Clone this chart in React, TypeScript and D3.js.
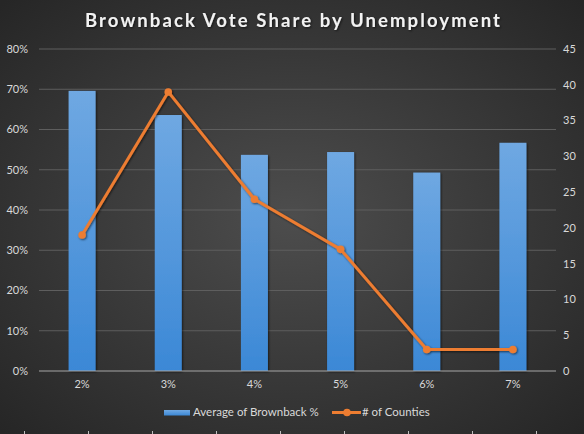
import * as d3 from "d3";
import { useEffect, useRef } from "react";

const categories = ["2%", "3%", "4%", "5%", "6%", "7%"];
const brownbackShare = [0.696, 0.636, 0.537, 0.544, 0.493, 0.567];
const countyCounts = [19, 39, 24, 17, 3, 3];
const leftTicks = [0, 0.1, 0.2, 0.3, 0.4, 0.5, 0.6, 0.7, 0.8];
const rightTicks = [0, 5, 10, 15, 20, 25, 30, 35, 40, 45];

const width = 584;
const height = 434;
const font = "Lato, 'Open Sans', sans-serif";

export default function App() {
  const ref = useRef<SVGSVGElement>(null);

  useEffect(() => {
    if (!ref.current) return;
    const svg = d3.select(ref.current);
    svg.selectAll("*").remove();

    const defs = svg.append("defs");
    const bg = defs
      .append("radialGradient")
      .attr("id", "bg")
      .attr("cx", "50%")
      .attr("cy", "50%")
      .attr("r", "70%");
    bg.append("stop").attr("offset", "0%").attr("stop-color", "#4d4d4d");
    bg.append("stop").attr("offset", "100%").attr("stop-color", "#262626");

    const barGrad = defs
      .append("linearGradient")
      .attr("id", "bar")
      .attr("x1", 0)
      .attr("y1", 0)
      .attr("x2", 0)
      .attr("y2", 1);
    barGrad.append("stop").attr("offset", "0%").attr("stop-color", "#6fa8e2");
    barGrad.append("stop").attr("offset", "100%").attr("stop-color", "#3b88d6");

    const shadow = defs.append("filter").attr("id", "shadow");
    shadow
      .append("feDropShadow")
      .attr("dx", 1)
      .attr("dy", 1)
      .attr("stdDeviation", 1)
      .attr("flood-color", "#000")
      .attr("flood-opacity", 0.6);

    svg.append("rect").attr("width", width).attr("height", height).attr("fill", "url(#bg)");

    const left = 39;
    const right = 556;
    const top = 49;
    const bottom = 371;

    const x = d3
      .scaleBand()
      .domain(categories)
      .range([left, right])
      .paddingInner(0.687)
      .paddingOuter(0.3435);
    const y = d3.scaleLinear().domain([0, 0.8]).range([bottom, top]);
    const y2 = d3.scaleLinear().domain([0, 45]).range([bottom, top]);

    // gridlines
    svg
      .append("g")
      .selectAll("line")
      .data(leftTicks.slice(1))
      .enter()
      .append("line")
      .attr("x1", left)
      .attr("x2", right)
      .attr("y1", (d) => y(d))
      .attr("y2", (d) => y(d))
      .attr("stroke", "#5e5e5e")
      .attr("stroke-width", 1);

    // left axis labels
    svg
      .append("g")
      .selectAll("text")
      .data(leftTicks)
      .enter()
      .append("text")
      .attr("x", 28)
      .attr("y", (d) => y(d))
      .attr("dy", "0.35em")
      .attr("text-anchor", "end")
      .attr("font-family", font)
      .attr("font-size", 11)
      .attr("fill", "#d9d9d9")
      .text((d) => d3.format(".0%")(d));

    // right axis labels
    svg
      .append("g")
      .selectAll("text")
      .data(rightTicks)
      .enter()
      .append("text")
      .attr("x", 563)
      .attr("y", (d) => y2(d))
      .attr("dy", "0.35em")
      .attr("font-family", font)
      .attr("font-size", 11)
      .attr("fill", "#d9d9d9")
      .text((d) => d);

    // bars
    svg
      .append("g")
      .selectAll("rect")
      .data(brownbackShare)
      .enter()
      .append("rect")
      .attr("x", (d, i) => x(categories[i])!)
      .attr("y", (d) => y(d))
      .attr("width", x.bandwidth())
      .attr("height", (d) => bottom - y(d))
      .attr("fill", "url(#bar)")
      .attr("filter", "url(#shadow)");

    // zero line
    svg
      .append("line")
      .attr("x1", left)
      .attr("x2", right)
      .attr("y1", bottom)
      .attr("y2", bottom)
      .attr("stroke", "#a6a6a6")
      .attr("stroke-width", 1);

    // category labels
    svg
      .append("g")
      .selectAll("text")
      .data(categories)
      .enter()
      .append("text")
      .attr("x", (d) => x(d)! + x.bandwidth() / 2)
      .attr("y", 388)
      .attr("text-anchor", "middle")
      .attr("font-family", font)
      .attr("font-size", 11)
      .attr("fill", "#d9d9d9")
      .text((d) => d);

    // line series
    const cx = (i: number) => x(categories[i])! + x.bandwidth() / 2;
    const line = d3
      .line<number>()
      .x((d, i) => cx(i))
      .y((d) => y2(d));

    const lineG = svg.append("g").attr("filter", "url(#shadow)");
    lineG
      .append("path")
      .datum(countyCounts)
      .attr("d", line)
      .attr("fill", "none")
      .attr("stroke", "#ed7d31")
      .attr("stroke-width", 3)
      .attr("stroke-linejoin", "round");
    lineG
      .selectAll("circle")
      .data(countyCounts)
      .enter()
      .append("circle")
      .attr("cx", (d, i) => cx(i))
      .attr("cy", (d) => y2(d))
      .attr("r", 3.8)
      .attr("fill", "#ed7d31");

    // title
    svg
      .append("text")
      .attr("x", 85)
      .attr("y", 27)
      .attr("textLength", 415)
      .attr("lengthAdjust", "spacing")
      .attr("font-family", font)
      .attr("font-size", 18.5)
      .attr("font-weight", "bold")
      .attr("fill", "#f2f2f2")
      .attr("filter", "url(#shadow)")
      .text("Brownback Vote Share by Unemployment");

    // legend
    const legend = svg.append("g");
    legend
      .append("rect")
      .attr("x", 164)
      .attr("y", 410)
      .attr("width", 26)
      .attr("height", 5.5)
      .attr("fill", "url(#bar)");
    legend
      .append("text")
      .attr("x", 193)
      .attr("y", 416)
      .attr("font-family", font)
      .attr("font-size", 11.5)
      .attr("fill", "#d9d9d9")
      .text("Average of Brownback %");
    legend
      .append("line")
      .attr("x1", 332)
      .attr("x2", 361)
      .attr("y1", 412.5)
      .attr("y2", 412.5)
      .attr("stroke", "#ed7d31")
      .attr("stroke-width", 3);
    legend
      .append("circle")
      .attr("cx", 347)
      .attr("cy", 412.5)
      .attr("r", 3.8)
      .attr("fill", "#ed7d31");
    legend
      .append("text")
      .attr("x", 362)
      .attr("y", 416)
      .attr("font-family", font)
      .attr("font-size", 11.5)
      .attr("fill", "#d9d9d9")
      .text("# of Counties");

    // spreadsheet cell edges peeking out below the chart
    svg
      .append("g")
      .selectAll("line")
      .data(d3.range(9))
      .enter()
      .append("line")
      .attr("x1", (d) => 24.5 + d * 64)
      .attr("x2", (d) => 24.5 + d * 64)
      .attr("y1", 431)
      .attr("y2", 434)
      .attr("stroke", "#bfbfbf")
      .attr("stroke-width", 1);
  }, []);

  return (
    <div style={{ position: "absolute", left: 0, top: 0 }}>
      <svg ref={ref} width={width} height={height} style={{ display: "block" }} />
    </div>
  );
}
